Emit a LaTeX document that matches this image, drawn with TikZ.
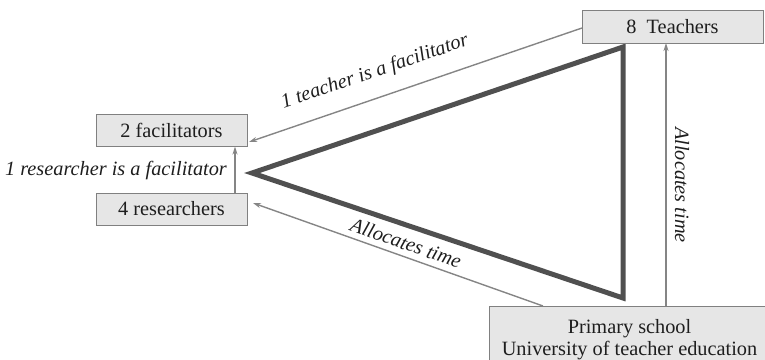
\documentclass[tikz,border=0pt]{standalone}
\usepackage{fontspec}
\setmainfont{Liberation Serif}
\usetikzlibrary{arrows.meta}
\definecolor{boxfill}{HTML}{E6E6E6}
\definecolor{boxline}{HTML}{808080}
\definecolor{arrowgray}{HTML}{858585}
\definecolor{tridark}{HTML}{505050}
\definecolor{textcol}{HTML}{1E1E1E}
\begin{document}
\begin{tikzpicture}[x=1pt,y=-1pt,
  every node/.style={text=textcol, font=\fontsize{20.3}{22}\selectfont},
  unitbox/.style={draw=boxline, fill=boxfill, line width=1pt, inner sep=0pt},
  link/.style={draw=arrowgray, line width=1.4pt, -{Stealth[length=8pt,width=5pt]}},
  lbl/.style={font=\fontsize{20.3}{22}\selectfont\itshape, inner sep=0pt}]
\useasboundingbox (0,0) rectangle (765,359);

% the central triangle
\coordinate (tl) at (252,173);
\coordinate (tt) at (623,47);
\coordinate (tb) at (623,298);
\draw[tridark, line width=5pt, line join=miter] (tl) -- (tt) -- (tb) -- cycle;

% boxes
\node[unitbox, minimum width=151pt, minimum height=32pt] (fac) at (171.5,130) {2 facilitators};
\node[unitbox, minimum width=151pt, minimum height=32pt] (res) at (171.5,209) {4 researchers};
\node[unitbox, minimum width=181pt, minimum height=33pt] (tea) at (672.5,26.5) {8\ \ Teachers};
\node[unitbox, minimum width=280pt, minimum height=66pt, align=center, anchor=north west] (sch) at (489,306)
  {Primary school\\University of teacher education};

% connector end points
\coordinate (teaOut) at (582,28);
\coordinate (facIn) at (249,142);
\coordinate (schOut) at (543,304);
\coordinate (resIn) at (253,203);
\coordinate (schUp) at (666,306);
\coordinate (teaIn) at (666,43);

% connectors
\draw[link] (teaOut) -- (facIn);
\draw[link] (sch.north west -| schOut) -- (resIn);
\draw[link] (schUp) -- (teaIn);
\draw[link] (res.north -| 235,0) -- (fac.south -| 235,0);

% labels
\node[lbl, rotate=18.8] (l1) at (375,72) {1 teacher is a facilitator};
\node[lbl, rotate=-19] (l2) at (406,243) {Allocates time};
\node[lbl, rotate=-90] (l3) at (682,185) {Allocates time};
\node[lbl] (l4) at (116,171) {1 researcher is a facilitator};
\end{tikzpicture}
\end{document}
